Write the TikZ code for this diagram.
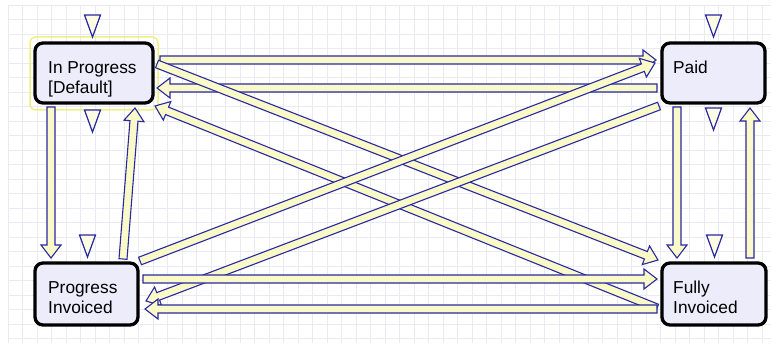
\documentclass[tikz,border=0pt]{standalone}
\usepackage{fontspec}
\setmainfont{Liberation Sans}
\usetikzlibrary{calc}
\definecolor{abl}{RGB}{40,40,160}
\definecolor{ayl}{RGB}{250,250,200}
\definecolor{boxfill}{RGB}{236,236,250}
\definecolor{gridc}{RGB}{234,234,242}
\definecolor{hilite}{RGB}{240,240,130}
\tikzset{
  statebox/.style={draw=black, line width=3.3pt, fill=boxfill, rounded corners=8pt,
     minimum width=#1, minimum height=60pt, inner sep=0pt, outer sep=0pt},
  statetext/.style={anchor=north west, inner sep=0pt, align=left,
     font=\fontsize{17.3}{20}\selectfont},
  fatarrowstyle/.style={draw=abl, fill=ayl, line width=1.1pt, line join=miter},
  markerstyle/.style={draw=abl, fill=ayl!50!white, line width=1.2pt, line join=miter},
}
\newcommand\fatarrow[2]{%
  \coordinate (faA) at (#1);
  \coordinate (faB) at (#2);
  \coordinate (faP) at ($(faB)!13pt!(faA)$);
  \draw[fatarrowstyle] ($(faA)!4pt!90:(faB)$) -- ($(faP)!4pt!90:(faB)$)
     -- ($(faP)!10pt!90:(faB)$) -- (faB) -- ($(faP)!10pt!-90:(faB)$)
     -- ($(faP)!4pt!-90:(faB)$) -- ($(faA)!4pt!-90:(faB)$) -- cycle;
}
\newcommand\statemarker[1]{%
  \draw[markerstyle] ($(#1)+(-8,0)$) -- ($(#1)+(8,0)$) -- ($(#1)+(0,22)$) -- cycle;
}
\begin{document}
\begin{tikzpicture}[x=1pt, y=-1pt]
\useasboundingbox (0,0) rectangle (782,350);
\fill[white] (0,0) rectangle (782,350);
% grid
\foreach \i in {0,...,52} {\draw[gridc, line width=0.7pt] (8+14.5*\i,5) -- (8+14.5*\i,343);}
\foreach \j in {0,...,23} {\draw[gridc, line width=0.7pt] (8,5+14.5*\j) -- (771,5+14.5*\j);}
% highlight of default state
\draw[hilite, line width=1.5pt, rounded corners=6pt] (30,37) rectangle (158,110);
% state boxes
\node[statebox=118pt] (ip) at (94,73) {};
\node[statebox=103pt, minimum height=62pt] (pi) at (86.5,294) {};
\node[statebox=103pt] (pd) at (713.5,73) {};
\node[statebox=104pt, minimum height=62pt] (fi) at (714,294) {};
\node[statetext] (iptxt) at ($(ip.north west)+(13,18)$) {In Progress\\{}[Default]};
\node[statetext] (pitxt) at ($(pi.north west)+(13,18)$) {Progress\\Invoiced};
\node[statetext] (pdtxt) at ($(pd.north west)+(11,18)$) {Paid};
\node[statetext] (fitxt) at ($(fi.north west)+(11,18)$) {Fully\\Invoiced};
% markers
\statemarker{$(ip.north)+(-1.5,-28)$}
\statemarker{$(ip.south)+(-1.5,7)$}
\statemarker{$(pi.north)+(1,-28)$}
\statemarker{$(pd.north)+(0,-28)$}
\statemarker{$(pd.south)+(0,5)$}
\statemarker{$(fi.north)+(0.5,-28)$}
% transitions
\fatarrow{$(ip.north east)+(7,17)$}{$(pd.north west)+(-6,17)$}
\fatarrow{$(pd.west)+(-5,15)$}{$(ip.east)+(4,15)$}
\fatarrow{$(ip.east)+(4,-9)$}{$(fi.north west)+(-4,-3)$}
\fatarrow{$(fi.west)+(-5,14)$}{$(ip.south east)+(2,3)$}
\fatarrow{$(pi.north east)+(2,-2)$}{$(pd.west)+(-7,-10)$}
\fatarrow{$(pd.south west)+(-3,3)$}{$(pi.east)+(8,7)$}
\fatarrow{$(pi.east)+(5,-15)$}{$(fi.west)+(-5,-15)$}
\fatarrow{$(fi.west)+(-5,15)$}{$(pi.east)+(7,15)$}
\fatarrow{$(ip.south west)+(16,4)$}{$(pi.north west)+(16,-5)$}
\fatarrow{$(pi.north east)+(-15,-4)$}{$(ip.south east)+(-18,5)$}
\fatarrow{$(pd.south west)+(15,4)$}{$(fi.north west)+(15,-5)$}
\fatarrow{$(fi.north east)+(-16,-5)$}{$(pd.south east)+(-15,5)$}
\end{tikzpicture}
\end{document}
